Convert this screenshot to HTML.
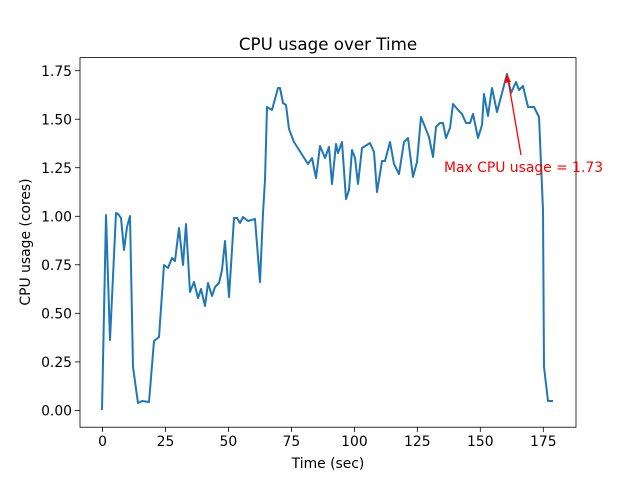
<!DOCTYPE html>
<html><head><meta charset="utf-8"><style>body{margin:0;background:#fff}</style></head><body>
<svg width="640" height="480" viewBox="0 0 640 480" xmlns="http://www.w3.org/2000/svg" font-family="DejaVu Sans, Liberation Sans, sans-serif">
<rect width="640" height="480" fill="#fff"/>
<polyline fill="none" stroke="#1f77b4" stroke-width="2" stroke-linejoin="round" points="102,410 106,215 110,340 116,213 118,214 121,218 124,250 127,227 130,216 133,367 138,403 142,401 149,402 154,341 159,337 164,265 168,268 172,258 175,261 179,228 183,265 186,224 190,292 194,282 198,298 201,289 205,306 208,283 212,296 215,287 219,283 222,270 225,241 229,297 234,218 237,218 240,223 243,217 248,221 255,219 260,282 263,213 265,180 267,107 272,110 278,88 280,88 283,103 286,105 289,129 294,142 308,164 312,158 316,178 320,146 325,158 329,147 332,184 336,144 338,153 342,142 346,199 349,190 352,150 355,158 358,184 362,148 370,143 374,152 377,192 382,161 385,161 390,142 394,164 399,174 404,142 408,138 413,177 417,162 421,117 429,137 433,157 436,127 440,123 443,123 446,138 450,128 453,104 459,111 462,114 466,123 470,123 473,114 478,138 482,125 484,94 488,116 492,88 497,112 507,74 511,93 516,82 519,90 523,86 528,107 534,107 539,117 543,210 544,367 548,401 553,401"/>
<rect x="80" y="57.6" width="496" height="369.6" fill="none" stroke="#000" stroke-width="0.8"/>
<g stroke="#000" stroke-width="0.8">
<line x1="102.5" y1="427" x2="102.5" y2="432"/><line x1="165.5" y1="427" x2="165.5" y2="432"/><line x1="228.4" y1="427" x2="228.4" y2="432"/><line x1="291.4" y1="427" x2="291.4" y2="432"/><line x1="354.4" y1="427" x2="354.4" y2="432"/><line x1="417.3" y1="427" x2="417.3" y2="432"/><line x1="480.3" y1="427" x2="480.3" y2="432"/><line x1="543.3" y1="427" x2="543.3" y2="432"/>
<line x1="75" y1="410.4" x2="80" y2="410.4"/><line x1="75" y1="361.9" x2="80" y2="361.9"/><line x1="75" y1="313.3" x2="80" y2="313.3"/><line x1="75" y1="264.8" x2="80" y2="264.8"/><line x1="75" y1="216.3" x2="80" y2="216.3"/><line x1="75" y1="167.7" x2="80" y2="167.7"/><line x1="75" y1="119.2" x2="80" y2="119.2"/><line x1="75" y1="70.7" x2="80" y2="70.7"/>
</g>
<g font-size="13.9" text-anchor="middle" fill="#000">
<text x="102.5" y="446">0</text><text x="165.5" y="446">25</text><text x="228.4" y="446">50</text><text x="291.4" y="446">75</text><text x="354.4" y="446">100</text><text x="417.3" y="446">125</text><text x="480.3" y="446">150</text><text x="543.3" y="446">175</text>
</g>
<g font-size="13.9" text-anchor="end" fill="#000">
<text x="72" y="415.5">0.00</text><text x="72" y="367">0.25</text><text x="72" y="318.5">0.50</text><text x="72" y="270">0.75</text><text x="72" y="221.5">1.00</text><text x="72" y="173">1.25</text><text x="72" y="124.5">1.50</text><text x="72" y="76">1.75</text>
</g>
<text x="328" y="468" font-size="13.9" text-anchor="middle">Time (sec)</text>
<text transform="translate(30,242) rotate(-90)" font-size="13.9" text-anchor="middle">CPU usage (cores)</text>
<text x="328" y="50" font-size="16.7" text-anchor="middle">CPU usage over Time</text>
<line x1="521" y1="155" x2="508" y2="79" stroke="red" stroke-width="1.3"/>
<polygon points="507,74 504,83 511,82" fill="red"/>
<text x="444" y="172" font-size="13.9" fill="red">Max CPU usage = 1.73</text>
</svg>
</body></html>
